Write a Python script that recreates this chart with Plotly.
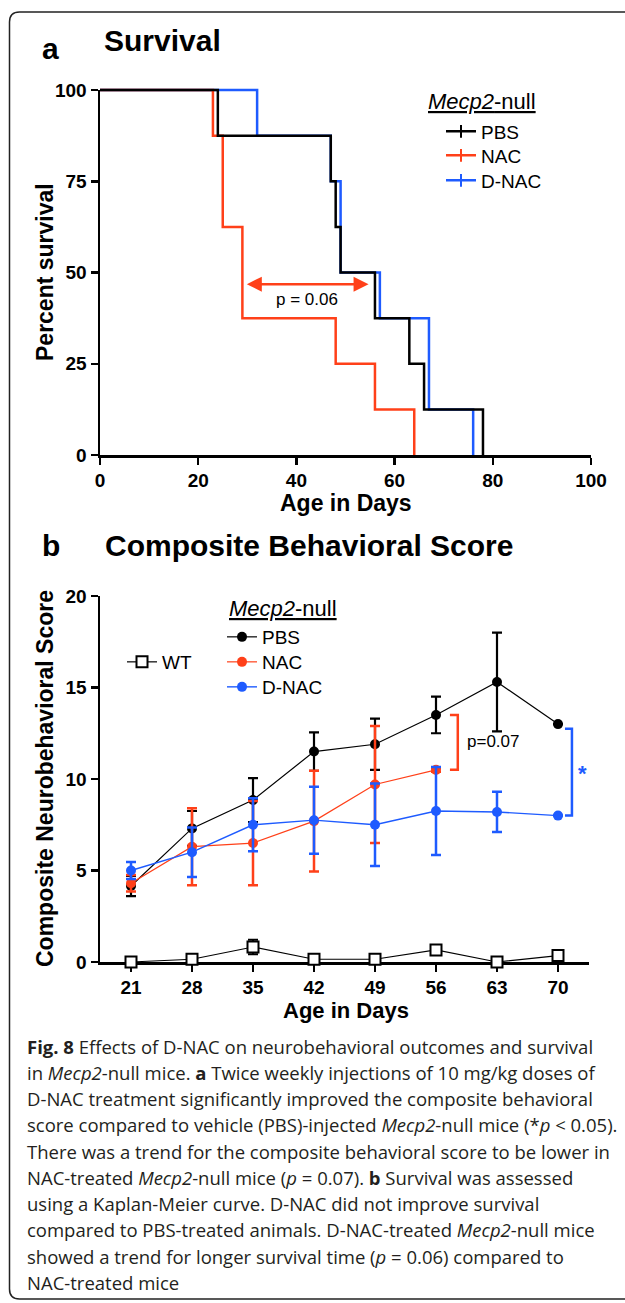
import plotly.graph_objects as go

# Figure fills the whole 625 x 1303 window (page margin removed after plotting).
FW, FH = 625, 1303

# ---------------- Panel a: survival (Kaplan-Meier, Mecp2-null) ----------------
pbs_days = [0, 24, 47, 48, 49, 56, 63, 66, 78]
pbs_surv = [100, 87.5, 75, 62.5, 50, 37.5, 25, 12.5, 0]
nac_days = [0, 23, 25, 29, 48, 56, 64]
nac_surv = [100, 87.5, 62.5, 37.5, 25, 12.5, 0]
dnac_days = [0, 32, 47, 49, 57, 67, 76]
dnac_surv = [100, 87.5, 75, 50, 37.5, 12.5, 0]
surv_xticks = [0, 20, 40, 60, 80, 100]
surv_yticks = [0, 25, 50, 75, 100]
surv_p_text = "p = 0.06"

# ---------------- Panel b: composite behavioral score ----------------
ages = [21, 28, 35, 42, 49, 56, 63, 70]
pbs_score = [4.15, 7.3, 8.85, 11.5, 11.9, 13.5, 15.3, 13.0]
pbs_sem = [0.55, 0.95, 1.2, 1.05, 1.4, 1.0, 2.7, None]
nac_ages = [21, 28, 35, 42, 49, 56]
nac_score = [4.3, 6.3, 6.5, 7.7, 9.7, 10.5]
nac_sem = [0.45, 2.1, 2.3, 2.75, 3.2, 0.1]
dnac_score = [5.0, 6.0, 7.5, 7.75, 7.5, 8.25, 8.2, 8.0]
dnac_sem = [0.47, 1.35, 1.45, 1.83, 2.25, 2.4, 1.1, None]
wt_score = [0.0, 0.15, 0.82, 0.15, 0.15, 0.66, 0.0, 0.35]
wt_sem = [0.05, 0.1, 0.4, 0.1, 0.1, 0.2, 0.05, 0.15]
score_yticks = [0, 5, 10, 15, 20]
score_p_text = "p=0.07"
score_sig_text = "*"
group_title = "<u><i>Mecp2</i>-null</u>"

caption_lines = [
    "<b>Fig. 8</b> Effects of D-NAC on neurobehavioral outcomes and survival",
    "in <i>Mecp2</i>-null mice. <b>a</b> Twice weekly injections of 10 mg/kg doses of",
    "D-NAC treatment significantly improved the composite behavioral",
    "score compared to vehicle (PBS)-injected <i>Mecp2</i>-null mice (*<i>p</i> &lt; 0.05).",
    "There was a trend for the composite behavioral score to be lower in",
    "NAC-treated <i>Mecp2</i>-null mice (<i>p</i> = 0.07). <b>b</b> Survival was assessed",
    "using a Kaplan-Meier curve. D-NAC did not improve survival",
    "compared to PBS-treated animals. D-NAC-treated <i>Mecp2</i>-null mice",
    "showed a trend for longer survival time (<i>p</i> = 0.06) compared to",
    "NAC-treated mice",
]

# ---------------- styling ----------------
BLACK = "#000000"
RED = "#FF4019"
BLUE = "#1E5BFF"
FONT = "Liberation Sans, Arial, sans-serif"
CAP_FONT = "Open Sans, sans-serif"


def xp(px):  # window pixel -> paper fraction
    return px / FW


def yp(py):
    return 1 - py / FH


PAD = 10  # px padding of the invisible data axes, so lines on the axis edges are not clipped


def x_axes(px_l, px_r, v_l, v_r):
    s = (v_r - v_l) / (px_r - px_l)
    vis = dict(domain=[xp(px_l), xp(px_r)], range=[v_l, v_r])
    dat = dict(domain=[xp(px_l - PAD), xp(px_r + PAD)], range=[v_l - PAD * s, v_r + PAD * s])
    return vis, dat


def y_axes(py_b, py_t, v_b, v_t):
    s = (v_t - v_b) / (py_b - py_t)
    vis = dict(domain=[yp(py_b), yp(py_t)], range=[v_b, v_t])
    dat = dict(domain=[yp(py_b + PAD), yp(py_t - PAD)], range=[v_b - PAD * s, v_t + PAD * s])
    return vis, dat


# panel a geometry (window pixels)
ax_vis, ax_dat = x_axes(100, 591, 0, 100)
ay_vis, ay_dat = y_axes(455, 90, 0, 100)
# panel b geometry: day 21 at px 131, day 70 at px 558; axis from px 100 to 589
sx = (558 - 131) / (70 - 21)
bx_vis, bx_dat = x_axes(100, 589, 21 + (100 - 131) / sx, 21 + (589 - 131) / sx)
by_vis, by_dat = y_axes(962, 596, 0, 20)

axis_style = dict(
    showline=True, linewidth=2.5, linecolor=BLACK, ticks="outside", ticklen=7,
    tickwidth=2.5, tickcolor=BLACK, showgrid=False, zeroline=False, automargin=False,
    tickfont=dict(family=FONT, size=19, color=BLACK, weight="bold"), fixedrange=True,
)
hidden = dict(visible=False, showgrid=False, zeroline=False, fixedrange=True, automargin=False)

fig = go.Figure()
# empty traces so the visible axis frames are drawn
fig.add_trace(go.Scatter(x=[None], y=[None], xaxis="x", yaxis="y", showlegend=False))
fig.add_trace(go.Scatter(x=[None], y=[None], xaxis="x2", yaxis="y2", showlegend=False))

# ---- panel a traces ----
for d, s, c in [(dnac_days, dnac_surv, BLUE), (nac_days, nac_surv, RED), (pbs_days, pbs_surv, BLACK)]:
    fig.add_trace(go.Scatter(x=d, y=s, mode="lines", line=dict(color=c, width=2.5, shape="hv"),
                             xaxis="x3", yaxis="y3", showlegend=False, hoverinfo="skip"))
for name, c, lg in [("PBS", BLACK, "legend"), ("NAC", RED, "legend4"), ("D-NAC", BLUE, "legend5")]:
    fig.add_trace(go.Scatter(x=[None], y=[None], mode="lines+markers", name=name,
                             line=dict(color=c, width=2.5),
                             marker=dict(symbol="line-ns", size=9, line=dict(color=c, width=2)),
                             xaxis="x3", yaxis="y3", legend=lg))


# ---- panel b traces ----
def err(v, c, w):
    return dict(type="data", array=v, visible=True, color=c, thickness=w, width=5)


fig.add_trace(go.Scatter(x=ages, y=pbs_score, name="PBS", mode="lines+markers",
                         line=dict(color=BLACK, width=1.2),
                         marker=dict(color=BLACK, size=10, symbol="circle"),
                         error_y=err(pbs_sem, BLACK, 2.2), cliponaxis=False,
                         xaxis="x4", yaxis="y4", legend="legend2"))
fig.add_trace(go.Scatter(x=nac_ages, y=nac_score, name="NAC", mode="lines+markers",
                         line=dict(color=RED, width=1.2),
                         marker=dict(color=RED, size=10, symbol="circle"),
                         error_y=err(nac_sem, RED, 2.5), cliponaxis=False,
                         xaxis="x4", yaxis="y4", legend="legend6"))
fig.add_trace(go.Scatter(x=ages, y=dnac_score, name="D-NAC", mode="lines+markers",
                         line=dict(color=BLUE, width=1.4),
                         marker=dict(color=BLUE, size=10, symbol="circle"),
                         error_y=err(dnac_sem, BLUE, 2.5), cliponaxis=False,
                         xaxis="x4", yaxis="y4", legend="legend7"))
fig.add_trace(go.Scatter(x=ages, y=wt_score, name="WT", mode="lines+markers",
                         line=dict(color=BLACK, width=1.2),
                         marker=dict(color="white", size=11, symbol="square",
                                     line=dict(color=BLACK, width=2)),
                         error_y=err(wt_sem, BLACK, 2), cliponaxis=False,
                         xaxis="x4", yaxis="y4", legend="legend3"))

annotations = []


def txt(text, px, py, size, bold=False, color=BLACK, xanchor="center", family=FONT, angle=0):
    annotations.append(dict(text=f"<b>{text}</b>" if bold else text, x=xp(px), y=yp(py),
                            xref="paper", yref="paper", showarrow=False, xanchor=xanchor,
                            yanchor="middle", textangle=angle,
                            font=dict(family=family, size=size, color=color)))


# panel labels and titles
txt("a", 50, 48, 30, bold=True)
txt("Survival", 102, 41, 30, bold=True, xanchor="left")
txt("b", 51, 545, 30, bold=True)
txt("Composite Behavioral Score", 103, 546, 30, bold=True, xanchor="left")
# axis titles
txt("Percent survival", 45, 272, 23, bold=True, angle=-90)
txt("Age in Days", 346, 503, 23, bold=True)
txt("Composite Neurobehavioral Score", 45, 779, 23, bold=True, angle=-90)
txt("Age in Days", 346, 1010, 22, bold=True)
# legend group titles
txt(group_title, 426, 102, 22, xanchor="left")
txt(group_title, 227, 608, 22, xanchor="left")

# survival comparison arrow and p-value
annotations.append(dict(x=54.7, y=46.8, ax=29.6, ay=46.8, xref="x3", yref="y3", axref="x3",
                        ayref="y3", text="", showarrow=True, arrowhead=2, startarrowhead=2,
                        arrowside="end+start", arrowsize=1.2, startarrowsize=1.2,
                        arrowwidth=2.5, arrowcolor=RED))
annotations.append(dict(x=42.2, y=42.5, xref="x3", yref="y3", text=surv_p_text, showarrow=False,
                        font=dict(family=FONT, size=17, color=BLACK)))
# score comparison labels
annotations.append(dict(x=62.5, y=12.05, xref="x4", yref="y4", text=score_p_text, showarrow=False,
                        font=dict(family=FONT, size=17, color=BLACK)))
annotations.append(dict(x=72.8, y=10.3, xref="x4", yref="y4", text=f"<b>{score_sig_text}</b>",
                        showarrow=False, font=dict(family=FONT, size=22, color=BLUE)))

# caption
for i, line in enumerate(caption_lines):
    txt(line, 25, 1046 + i * 26.25, 18.5, xanchor="left", family=CAP_FONT, color="#231F20")

shapes = []
# significance brackets (bottom panel)
i56, i70 = ages.index(56), ages.index(70)
bx_red_l, bx_red_r = 57.6, 58.5
shapes.append(dict(type="path", xref="x4", yref="y4", line=dict(color=RED, width=2.5),
                   path=f"M {bx_red_l},{pbs_score[i56]} L {bx_red_r},{pbs_score[i56]} "
                        f"L {bx_red_r},{nac_score[-1]} L {bx_red_l},{nac_score[-1]}"))
bx_blue_l, bx_blue_r = 70.8, 71.6
shapes.append(dict(type="path", xref="x4", yref="y4", line=dict(color=BLUE, width=2.5),
                   path=f"M {bx_blue_l},{pbs_score[i70] - 0.25} L {bx_blue_r},{pbs_score[i70] - 0.25} "
                        f"L {bx_blue_r},{dnac_score[i70]} L {bx_blue_l},{dnac_score[i70]}"))
# rounded figure frame (right side runs to the page edge)
r = 10
fl, ft, fb = xp(9.5), yp(12), yp(1299)
rx, ry = r / FW, r / FH
shapes.append(dict(type="path", xref="paper", yref="paper", line=dict(color="#222222", width=1.5),
                   path=f"M 1,{ft} L {fl + rx},{ft} Q {fl},{ft} {fl},{ft - ry} "
                        f"L {fl},{fb + ry} Q {fl},{fb} {fl + rx},{fb} L 1,{fb}"))


def leg(px, py):
    return dict(bgcolor="rgba(0,0,0,0)", borderwidth=0, xanchor="left", yanchor="middle",
                itemwidth=30, x=xp(px), y=yp(py),
                font=dict(family=FONT, size=19, color=BLACK))


fig.update_layout(
    width=FW, height=FH, margin=dict(l=0, r=0, t=0, b=0, pad=0, autoexpand=False),
    paper_bgcolor="white", plot_bgcolor="rgba(0,0,0,0)",
    xaxis=dict(**axis_style, **ax_vis, anchor="y", tickvals=surv_xticks),
    yaxis=dict(**axis_style, **ay_vis, anchor="x", tickvals=surv_yticks),
    xaxis2=dict(**axis_style, **bx_vis, anchor="y2", tickvals=ages),
    yaxis2=dict(**axis_style, **by_vis, anchor="x2", tickvals=score_yticks),
    xaxis3=dict(**hidden, **ax_dat, anchor="y3"),
    yaxis3=dict(**hidden, **ay_dat, anchor="x3"),
    xaxis4=dict(**hidden, **bx_dat, anchor="y4"),
    yaxis4=dict(**hidden, **by_dat, anchor="x4"),
    legend=leg(441, 131.5), legend4=leg(441, 155.5), legend5=leg(441, 180.5),
    legend2=leg(222, 637), legend6=leg(222, 662), legend7=leg(222, 687),
    legend3=leg(122, 662),
    annotations=annotations, shapes=shapes, hovermode=False,
)

fig.write_html("out.html", config={"displayModeBar": False, "staticPlot": True},
               post_script="document.body.style.margin='0';")
